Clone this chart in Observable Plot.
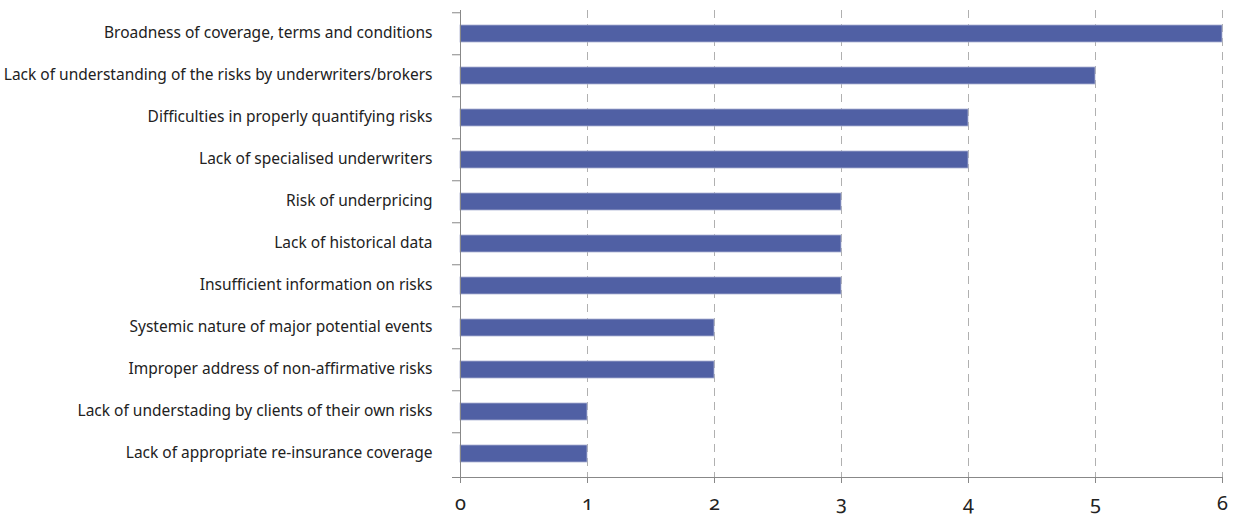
<!DOCTYPE html>
<html>
<head>
<meta charset="utf-8">
<script src="https://cdn.jsdelivr.net/npm/d3@7"></script>
<script src="https://cdn.jsdelivr.net/npm/@observablehq/plot@0.6"></script>
<style>
  html, body { margin: 0; padding: 0; background: #fff; }
  #chart svg { display: block; }
  .xaxis text { font-variant-numeric: oldstyle-nums; font-feature-settings: "onum" 1; }
</style>
</head>
<body>
<div id="chart"></div>
<script>
const categories = [
  "Broadness of coverage, terms and conditions",
  "Lack of understanding of the risks by underwriters/brokers",
  "Difficulties in properly quantifying risks",
  "Lack of specialised underwriters",
  "Risk of underpricing",
  "Lack of historical data",
  "Insufficient information on risks",
  "Systemic nature of major potential events",
  "Improper address of non-affirmative risks",
  "Lack of understading by clients of their own risks",
  "Lack of appropriate re-insurance coverage"
];
const values = [6, 5, 4, 4, 3, 3, 3, 2, 2, 1, 1];
const xTicks = [0, 1, 2, 3, 4, 5, 6];

const data = categories.map((c, i) => ({category: c, value: values[i]}));

const width = 1240, height = 515;
const marginTop = 10, marginBottom = 38, marginLeft = 460, marginRight = 18;
const step = (height - marginTop - marginBottom) / categories.length;
const m = {marginTop, marginBottom, marginLeft, marginRight};

const chart = Plot.plot({
  width, height, ...m,
  style: {fontFamily: "Noto Sans", color: "#222", background: "#fff"},
  x: {domain: [0, 6], label: null, axis: null},
  y: {domain: categories, paddingInner: 0.6, paddingOuter: 0.3, align: 0.5, label: null, axis: null},
  marks: [
    Plot.gridX(xTicks, {stroke: "#b0b0b0", strokeOpacity: 1, strokeDasharray: "8,6", ...m}),
    Plot.barX(data, {x: "value", y: "category", fill: "#5060a4", stroke: "#aab1d2", strokeWidth: 0.8}),
    Plot.frame({anchor: "left", stroke: "#888"}),
    Plot.frame({anchor: "bottom", stroke: "#888", insetLeft: -8}),
    Plot.axisY({tickSize: 8, tickFormat: () => "", dy: -step / 2, stroke: "#888", label: null, ...m}),
    Plot.axisY({tickSize: 0, tickPadding: 28, fontSize: 15.5, fill: "#222", dy: -1, label: null, ...m}),
    Plot.axisX(xTicks, {tickSize: 6, tickPadding: 12, fontSize: 20, stroke: "#888", fill: "#222",
      className: "xaxis", label: null, tickFormat: d => String(d), ...m})
  ]
});
document.getElementById("chart").appendChild(chart);
</script>
</body>
</html>
